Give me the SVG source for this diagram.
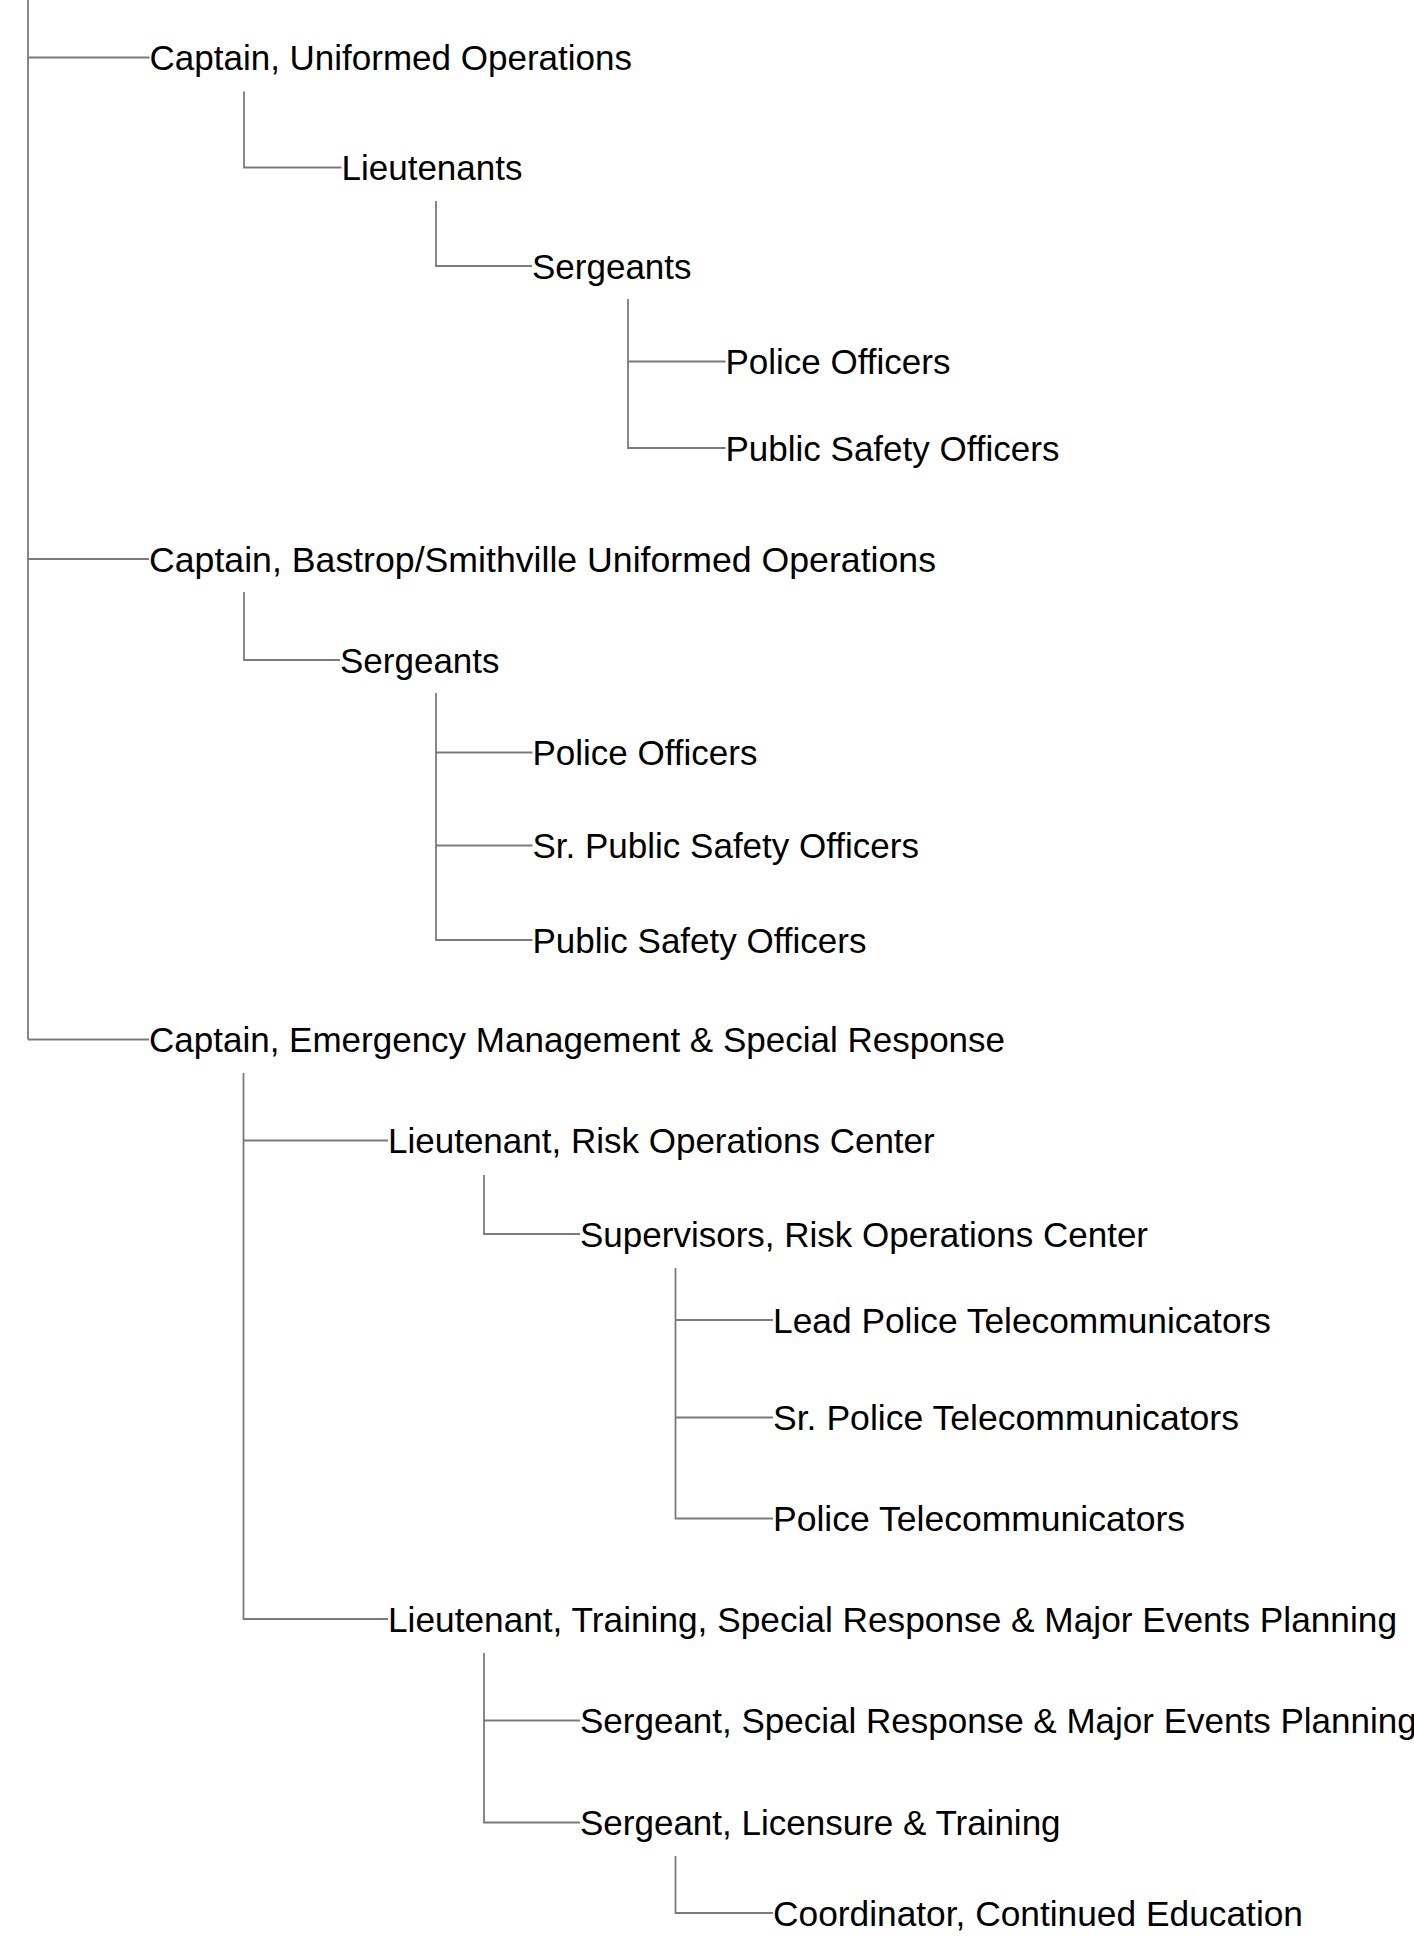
<svg xmlns="http://www.w3.org/2000/svg" width="1414" height="1948" viewBox="0 0 1414 1948">
<style>
.c{fill:none;stroke:#7a7a7a;stroke-width:1.8}
.t{font-family:"Liberation Sans",Arial,sans-serif;font-size:35px;fill:#000}
</style>
<rect width="1414" height="1948" fill="#fff"/>
<g id="connectors">
<path class="c" d="M28 0V1039.5M28 57.5H149.5M28 559H149M28 1039.5H149"/>
<path class="c" d="M244 91.5V167.5H341.5"/>
<path class="c" d="M436 201V266H532"/>
<path class="c" d="M628 299V448H725.5M628 361.5H725.5"/>
<path class="c" d="M244 592V660H340"/>
<path class="c" d="M436 693V940H532.5M436 752.5H532.5M436 845.5H532.5"/>
<path class="c" d="M243.5 1073V1619H388M243.5 1140.5H388"/>
<path class="c" d="M484 1175V1234H580"/>
<path class="c" d="M675.5 1268V1518.5H773M675.5 1320H773M675.5 1417.5H773"/>
<path class="c" d="M484 1653V1822.5H580M484 1720.5H580"/>
<path class="c" d="M675.5 1856V1913H773"/>
</g>
<g id="n1"><text class="t" x="149.5" y="70">Captain, Uniformed Operations</text></g>
<g id="n2"><text class="t" x="341.5" y="180">Lieutenants</text></g>
<g id="n3"><text class="t" x="532" y="278.5">Sergeants</text></g>
<g id="n4"><text class="t" x="725.5" y="374">Police Officers</text></g>
<g id="n5"><text class="t" x="725.5" y="460.5">Public Safety Officers</text></g>
<g id="n6"><text class="t" x="149" y="571.5" textLength="787" lengthAdjust="spacingAndGlyphs">Captain, Bastrop/Smithville Uniformed Operations</text></g>
<g id="n7"><text class="t" x="340" y="672.5">Sergeants</text></g>
<g id="n8"><text class="t" x="532.5" y="765">Police Officers</text></g>
<g id="n9"><text class="t" x="532.5" y="858">Sr. Public Safety Officers</text></g>
<g id="n10"><text class="t" x="532.5" y="952.5">Public Safety Officers</text></g>
<g id="n11"><text class="t" x="149" y="1052">Captain, Emergency Management &amp; Special Response</text></g>
<g id="n12"><text class="t" x="388" y="1153">Lieutenant, Risk Operations Center</text></g>
<g id="n13"><text class="t" x="580" y="1246.5">Supervisors, Risk Operations Center</text></g>
<g id="n14"><text class="t" x="773" y="1332.5" textLength="498" lengthAdjust="spacingAndGlyphs">Lead Police Telecommunicators</text></g>
<g id="n15"><text class="t" x="773" y="1430" textLength="466" lengthAdjust="spacingAndGlyphs">Sr. Police Telecommunicators</text></g>
<g id="n16"><text class="t" x="773" y="1531" textLength="412" lengthAdjust="spacingAndGlyphs">Police Telecommunicators</text></g>
<g id="n17"><text class="t" x="388" y="1631.5" textLength="1009" lengthAdjust="spacingAndGlyphs">Lieutenant, Training, Special Response &amp; Major Events Planning</text></g>
<g id="n18"><text class="t" x="580" y="1733">Sergeant, Special Response &amp; Major Events Planning</text></g>
<g id="n19"><text class="t" x="580" y="1835">Sergeant, Licensure &amp; Training</text></g>
<g id="n20"><text class="t" x="773" y="1925.5" textLength="530" lengthAdjust="spacingAndGlyphs">Coordinator, Continued Education</text></g>
</svg>
